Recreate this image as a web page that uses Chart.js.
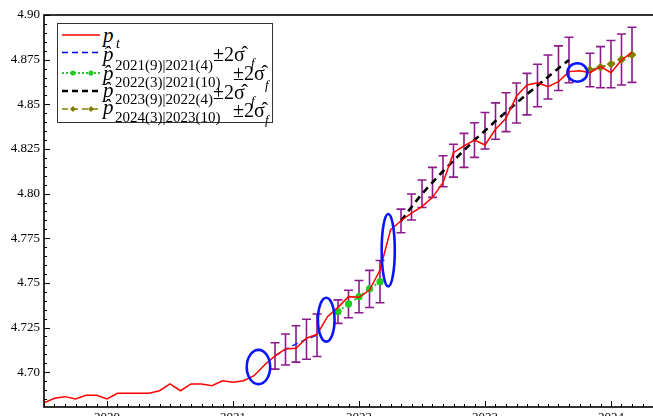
<!DOCTYPE html>
<html>
<head>
<meta charset="utf-8">
<script src="https://cdn.jsdelivr.net/npm/chart.js@4.4.1/dist/chart.umd.min.js"></script>
<style>
  html, body { margin: 0; padding: 0; background: #fff; overflow: hidden; width: 653px; height: 416px; }
  #wrap { position: relative; width: 680px; height: 440px; }
  #c { position: absolute; left: 0; top: 0; }
  #legendBox { position: absolute; left: 57px; top: 23px; width: 216px; height: 100px;
               border: 1px solid #333; background: #fff; box-sizing: border-box; }
  #legendSamples { position: absolute; left: 0; top: 0; }
  .lg { position: absolute; white-space: nowrap; line-height: 1; color: #000;
        font-family: 'Liberation Serif', 'Times New Roman', serif; }
  .it { font-style: italic; }
</style>
</head>
<body>
<div id="wrap">
  <canvas id="c" width="680" height="440"></canvas>
  <div id="legendBox"></div>
  <svg id="legendSamples" width="280" height="130">
    <line x1="62" y1="35" x2="100" y2="35" stroke="#ff0000" stroke-width="1.5"/>
    <line x1="62" y1="52.5" x2="100" y2="52.5" stroke="#0000ff" stroke-width="1.5" stroke-dasharray="6,4"/>
    <line x1="62" y1="73" x2="100" y2="73" stroke="#22cc22" stroke-width="2" stroke-dasharray="2,2"/>
    <circle cx="73" cy="73" r="2.6" fill="#22cc22"/>
    <circle cx="91" cy="73" r="2.6" fill="#22cc22"/>
    <line x1="62" y1="91" x2="100" y2="91" stroke="#000" stroke-width="2.5" stroke-dasharray="6,4"/>
    <line x1="62" y1="109" x2="100" y2="109" stroke="#808000" stroke-width="1.5" stroke-dasharray="6,4"/>
    <polygon points="70,109 73,106 76,109 73,112" fill="#808000"/>
    <polygon points="88,109 91,106 94,109 91,112" fill="#808000"/>
  </svg>
  <!-- legend text: actual price and the four forecast bands -->
  <span class="lg it" style="left:103px;top:25px;font-size:21px">p</span>
  <span class="lg it" style="left:116px;top:37px;font-size:14px">t</span>

  <span class="lg it" style="left:103px;top:44px;font-size:21px">p&#770;</span>
  <span class="lg" style="left:115px;top:58px;font-size:15px">2021(9)|2021(4)</span>
  <span class="lg" style="left:213px;top:44px;font-size:20px">±2σ&#770;</span>
  <span class="lg it" style="left:251px;top:56px;font-size:13px">f</span>

  <span class="lg it" style="left:103px;top:63px;font-size:21px">p&#770;</span>
  <span class="lg" style="left:115px;top:75px;font-size:15px">2022(3)|2021(10)</span>
  <span class="lg" style="left:233px;top:63px;font-size:20px">±2σ&#770;</span>
  <span class="lg it" style="left:265px;top:78px;font-size:13px">f</span>

  <span class="lg it" style="left:103px;top:80px;font-size:21px">p&#770;</span>
  <span class="lg" style="left:115px;top:92px;font-size:15px">2023(9)|2022(4)</span>
  <span class="lg" style="left:213px;top:82px;font-size:20px">±2σ&#770;</span>
  <span class="lg it" style="left:251px;top:94px;font-size:13px">f</span>

  <span class="lg it" style="left:103px;top:97px;font-size:21px">p&#770;</span>
  <span class="lg" style="left:115px;top:110px;font-size:15px">2024(3)|2023(10)</span>
  <span class="lg" style="left:233px;top:100px;font-size:20px">±2σ&#770;</span>
  <span class="lg it" style="left:265px;top:113px;font-size:13px">f</span>
</div>

<script>
// ---- data ----------------------------------------------------------------
// log price p_t, monthly, from 2019(7) to 2024(3)
const actualStart = [2019, 7];
const actualP = [
  4.6829, 4.6854, 4.6863, 4.6850, 4.6871, 4.6871,
  4.6850, 4.6882, 4.6882, 4.6882, 4.6882, 4.6896, 4.6934, 4.6896, 4.6934, 4.6934, 4.6924, 4.6952,
  4.6943, 4.6952, 4.6980, 4.7040, 4.7091, 4.7130, 4.7134, 4.7190, 4.7212, 4.7311, 4.7363, 4.7423,
  4.7419, 4.7460, 4.7572, 4.7796, 4.7848, 4.7890, 4.7927, 4.7979, 4.8061, 4.8229, 4.8267, 4.8300,
  4.8272, 4.8360, 4.8422, 4.8546, 4.8608, 4.8621, 4.8599, 4.8627, 4.8683, 4.8688, 4.8677, 4.8711,
  4.8677, 4.8748, 4.8791
];

// forecast 2021(5)..2021(9), origin 2021(4)
const fc1Start = [2021, 5];
const fc1 = [4.7091, 4.7127, 4.7158, 4.7184, 4.7207];
const fc1Err = [0.0074, 0.0087, 0.0102, 0.0112, 0.0119];

// forecast 2021(11)..2022(3), origin 2021(10)
const fc2Start = [2021, 11];
const fc2 = [4.7339, 4.7382, 4.7423, 4.7466, 4.7507];
const fc2Err = [0.0066, 0.0077, 0.0090, 0.0104, 0.0118];

// forecast 2022(5)..2023(9), origin 2022(4)
const fc3Start = [2022, 5];
const fc3 = [4.7847, 4.7925, 4.7999, 4.8063, 4.8125, 4.8184, 4.8242, 4.8300, 4.8352,
             4.8406, 4.8456, 4.8507, 4.8557, 4.8605, 4.8653, 4.8702, 4.8748];
const fc3Err = [0.0066, 0.0073, 0.0077, 0.0084, 0.0087, 0.0092, 0.0095, 0.0097, 0.0102,
                0.0102, 0.0109, 0.0112, 0.0116, 0.0119, 0.0123, 0.0125, 0.0127];

// forecast 2023(11)..2024(3), origin 2023(10)
const fc4Start = [2023, 11];
const fc4 = [4.8692, 4.8708, 4.8725, 4.8751, 4.8777];
const fc4Err = [0.0094, 0.0115, 0.0132, 0.0143, 0.0154];

// highlighted forecast origins: centre (decimal year, value) and half-axes
const ringCentres = [[2021.202, 4.7029], [2021.740, 4.7294], [2022.232, 4.7683], [2023.733, 4.8678]];
const ringRadii   = [[0.093, 0.0096], [0.066, 0.0123], [0.052, 0.0203], [0.079, 0.0052]];

// axes
const xRange = [2019.5, 2024.5];
const xTickValues = [2020, 2021, 2022, 2023, 2024];
const xTickLabels = ['2020', '2021', '2022', '2023', '2024'];
const yRange = [4.6805, 4.90];
const yTickValues = [4.70, 4.725, 4.75, 4.775, 4.80, 4.825, 4.85, 4.875, 4.90];
const yTickLabels = ['4.70', '4.725', '4.75', '4.775', '4.80', '4.825', '4.85', '4.875', '4.90'];

// ---- helpers ---------------------------------------------------------------
// month index -> decimal year (January sits on the year tick)
function toPoints(start, values) {
  return values.map((v, i) => {
    const m = start[1] - 1 + i;
    return { x: start[0] + m / 12, y: v };
  });
}

const errorColor = '#8b1a8b';

// whiskers with caps for every forecast that carries an error band
const errorBars = {
  id: 'errorBars',
  beforeDatasetsDraw(chart) {
    const { ctx, scales: { x, y } } = chart;
    ctx.save();
    ctx.strokeStyle = errorColor;
    ctx.lineWidth = 1.6;
    chart.data.datasets.forEach(ds => {
      if (!ds.errors) return;
      ds.data.forEach((p, i) => {
        const px = x.getPixelForValue(p.x);
        const top = y.getPixelForValue(p.y + ds.errors[i]);
        const bot = y.getPixelForValue(p.y - ds.errors[i]);
        ctx.beginPath();
        ctx.moveTo(px, top); ctx.lineTo(px, bot);
        ctx.moveTo(px - 4.5, top); ctx.lineTo(px + 4.5, top);
        ctx.moveTo(px - 4.5, bot); ctx.lineTo(px + 4.5, bot);
        ctx.stroke();
      });
    });
    ctx.restore();
  }
};

// blue rings around the forecast origins
const rings = {
  id: 'rings',
  afterDatasetsDraw(chart) {
    const { ctx, scales: { x, y } } = chart;
    ctx.save();
    ctx.strokeStyle = '#0a14ff';
    ctx.lineWidth = 2.6;
    ringCentres.forEach((c, i) => {
      const cx = x.getPixelForValue(c[0]);
      const cy = y.getPixelForValue(c[1]);
      const rx = Math.abs(x.getPixelForValue(c[0] + ringRadii[i][0]) - cx);
      const ry = Math.abs(y.getPixelForValue(c[1] + ringRadii[i][1]) - cy);
      ctx.beginPath();
      ctx.ellipse(cx, cy, rx, ry, 0, 0, Math.PI * 2);
      ctx.stroke();
    });
    ctx.restore();
  }
};

// plot frame with inward major / minor tick marks
const frame = {
  id: 'frame',
  afterDatasetsDraw(chart) {
    const { ctx, chartArea: a, scales: { x, y } } = chart;
    ctx.save();
    ctx.strokeStyle = '#000';
    ctx.lineWidth = 1;
    ctx.beginPath();
    // monthly ticks on the time axis
    for (let k = Math.ceil(x.min * 12); k <= Math.floor(x.max * 12); k++) {
      const px = Math.round(x.getPixelForValue(k / 12)) + 0.5;
      const len = (k % 12 === 0) ? 6 : 3;
      ctx.moveTo(px, a.bottom); ctx.lineTo(px, a.bottom - len);
    }
    // 0.005 steps on the value axis
    for (let k = Math.ceil(y.min / 0.005 - 1e-6); k <= Math.floor(y.max / 0.005 + 1e-6); k++) {
      const v = k * 0.005;
      const py = Math.round(y.getPixelForValue(v)) + 0.5;
      const major = yTickValues.some(t => Math.abs(t - v) < 1e-6);
      ctx.moveTo(a.left, py); ctx.lineTo(a.left + (major ? 6 : 3), py);
    }
    ctx.stroke();
    ctx.lineWidth = 1.6;
    ctx.strokeRect(a.left, a.top, a.right - a.left, a.bottom - a.top);
    ctx.restore();
  }
};

const tickFont = { family: "'Liberation Serif', 'Times New Roman', serif", size: 13 };

new Chart(document.getElementById('c'), {
  type: 'line',
  data: {
    datasets: [
      { label: 'p_t', data: toPoints(actualStart, actualP),
        borderColor: '#ff0000', borderWidth: 1.5, pointRadius: 0, tension: 0 },
      { label: 'fc 2021(9)|2021(4)', data: toPoints(fc1Start, fc1), errors: fc1Err,
        borderColor: '#1030ff', borderWidth: 1.6, borderDash: [6, 4], pointRadius: 0, tension: 0 },
      { label: 'fc 2022(3)|2021(10)', data: toPoints(fc2Start, fc2), errors: fc2Err,
        borderColor: '#22cc22', borderWidth: 2, borderDash: [2, 3], tension: 0,
        pointRadius: 2.6, pointBackgroundColor: '#22cc22', pointBorderColor: '#22cc22' },
      { label: 'fc 2023(9)|2022(4)', data: toPoints(fc3Start, fc3), errors: fc3Err,
        borderColor: '#000000', borderWidth: 2.6, borderDash: [7, 5], pointRadius: 0, tension: 0 },
      { label: 'fc 2024(3)|2023(10)', data: toPoints(fc4Start, fc4), errors: fc4Err,
        borderColor: '#808000', borderWidth: 2, borderDash: [6, 4], tension: 0,
        pointStyle: 'rectRot', pointRadius: 3, pointBackgroundColor: '#808000', pointBorderColor: '#808000' }
    ]
  },
  options: {
    responsive: false,
    animation: false,
    layout: { padding: { top: 15, right: 6, left: 0, bottom: 0 } },
    plugins: { legend: { display: false }, tooltip: { enabled: false } },
    scales: {
      x: {
        type: 'linear', min: xRange[0], max: xRange[1],
        grid: { display: false, drawTicks: false },
        border: { display: false },
        afterBuildTicks: s => { s.ticks = xTickValues.map(v => ({ value: v })); },
        afterFit: s => { s.height = 33; },
        ticks: { callback: (v, i) => xTickLabels[i], padding: 3, font: tickFont, color: '#000',
                 maxRotation: 0, autoSkip: false }
      },
      y: {
        type: 'linear', min: yRange[0], max: yRange[1],
        grid: { display: false, drawTicks: false },
        border: { display: false },
        afterBuildTicks: s => { s.ticks = yTickValues.map(v => ({ value: v })); },
        afterFit: s => { s.width = 44; },
        ticks: { callback: (v, i) => yTickLabels[i], padding: 4, font: tickFont, color: '#000',
                 autoSkip: false }
      }
    }
  },
  plugins: [errorBars, rings, frame]
});
</script>
</body>
</html>
